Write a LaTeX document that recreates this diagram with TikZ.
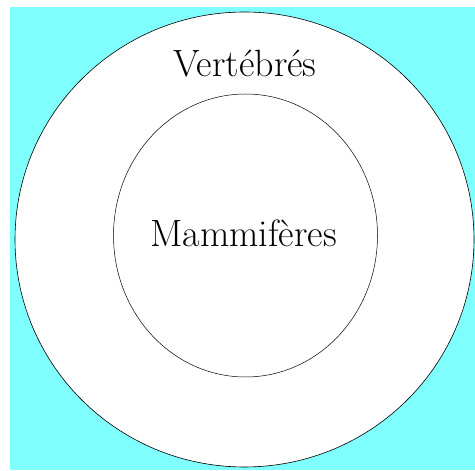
\documentclass[tikz,border=0pt]{standalone}
\usepackage{amsmath}
\usetikzlibrary{calc, positioning}

\definecolor{fond}{RGB}{128,255,255}

\begin{document}
\begin{tikzpicture}[x=1pt, y=1pt]
\def\Rx{229.5}
\def\Ry{227.5}
\def\rx{132}
\def\ry{141.5}

\useasboundingbox (0,0) rectangle (475,471);
\fill[fond] (10,1) rectangle (475,464);

\coordinate (O) at (244.5,231.5);
\coordinate (I) at (245.5,235.5);

\draw[fill=white, line width=0.6pt] (O) ellipse [x radius=\Rx, y radius=\Ry];
\draw[line width=0.5pt] (I) ellipse [x radius=\rx, y radius=\ry];

\node[anchor=base, font=\fontsize{38}{44}\selectfont] (vert) at (245,394.3) {Vertébrés};
\node[anchor=base, font=\fontsize{38}{44}\selectfont] (mamm) at (243.5,224) {Mammifères};
\end{tikzpicture}
\end{document}
